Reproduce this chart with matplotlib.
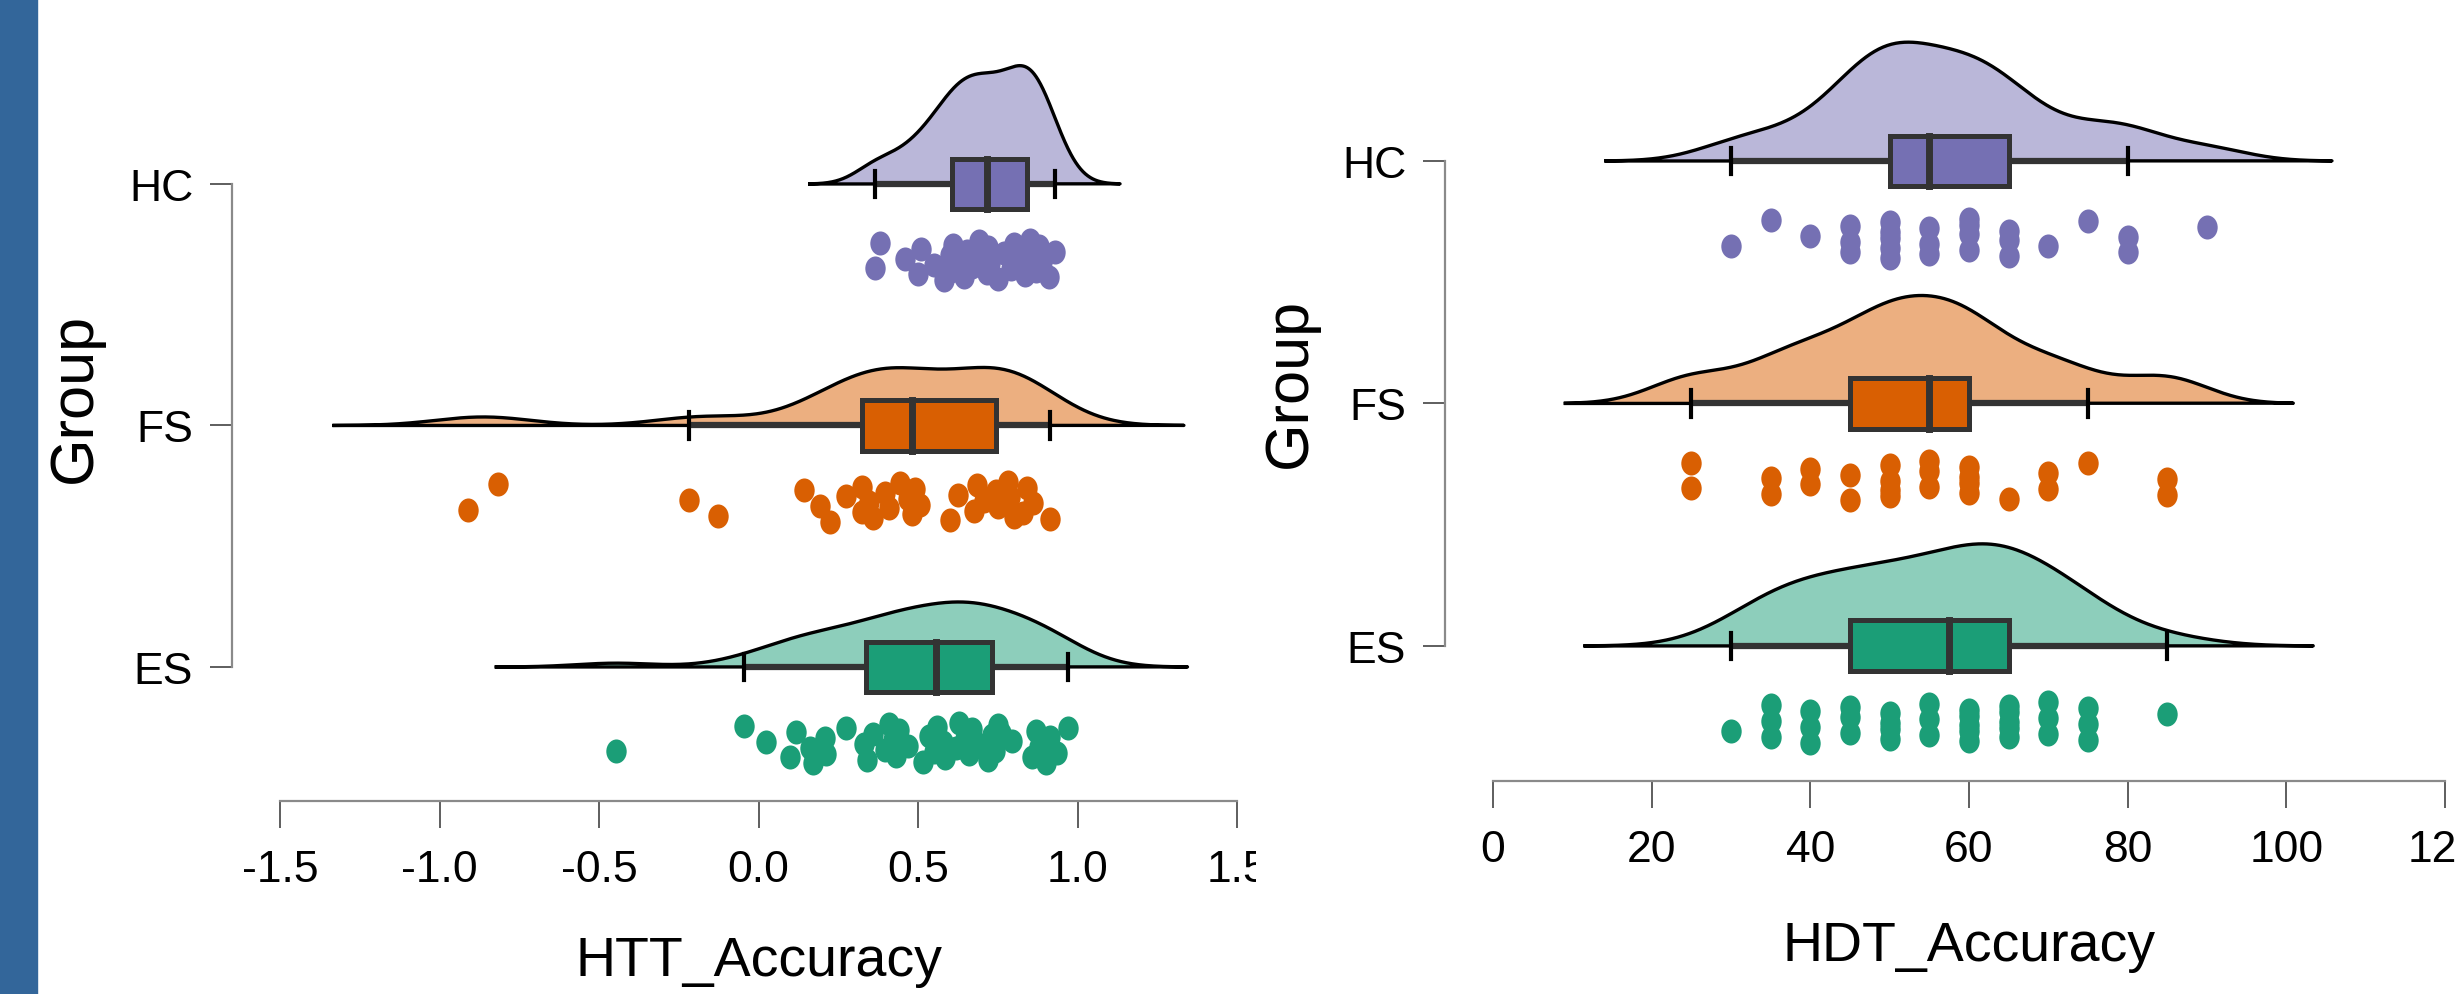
import numpy as np
import matplotlib.pyplot as plt
from matplotlib.patches import Rectangle
from matplotlib.path import Path
from matplotlib.transforms import Bbox, Affine2D

# groups drawn bottom -> top
groups = ['ES', 'FS', 'HC']
dark = ['#1b9e77', '#d95f02', '#7570b3']
light = ['#8dcebb', '#ecaf80', '#bab7d9']

htt_es = [-0.447, -0.047, 0.025, 0.10, 0.116, 0.163, 0.171, 0.21, 0.213, 0.273,
          0.33, 0.339, 0.36, 0.395, 0.408, 0.423, 0.43, 0.44, 0.47, 0.515,
          0.533, 0.55, 0.56, 0.577, 0.584, 0.76, 0.618, 0.63, 0.646, 0.66,
          0.668, 0.697, 0.718, 0.731, 0.74, 0.75, 0.794, 0.856, 0.871, 0.88,
          0.90, 0.913, 0.935, 0.97]
htt_fs = [-0.91, -0.816, -0.217, -0.126, 0.144, 0.194, 0.223, 0.273, 0.323, 0.323,
          0.345, 0.36, 0.398, 0.41, 0.445, 0.47, 0.48, 0.49, 0.505, 0.60,
          0.624, 0.674, 0.684, 0.706, 0.80, 0.743, 0.75, 0.781, 0.787, 0.828,
          0.841, 0.859, 0.913]
htt_hc = [0.364, 0.38, 0.46, 0.50, 0.51, 0.55, 0.58, 0.60, 0.605, 0.61,
          0.63, 0.645, 0.655, 0.67, 0.69, 0.70, 0.715, 0.72, 0.725, 0.75,
          0.77, 0.79, 0.80, 0.815, 0.835, 0.845, 0.848, 0.85, 0.86, 0.87,
          0.88, 0.89, 0.91, 0.93]

hdt_es = [30, 35, 35, 35, 40, 40, 40, 45, 45, 45, 50, 50, 50, 50, 55, 55, 55,
          60, 60, 60, 60, 60, 65, 65, 65, 65, 65, 70, 70, 70, 75, 75, 75, 85]
hdt_fs = [25, 25, 35, 35, 40, 40, 45, 45, 50, 50, 50, 50, 55, 55, 55,
          60, 60, 60, 60, 65, 70, 70, 75, 85, 85]
hdt_hc = [30, 35, 40, 45, 45, 45, 50, 50, 50, 50, 50, 55, 55, 55,
          60, 60, 60, 60, 65, 65, 65, 70, 75, 80, 80, 90]

htt_ticks = [-1.5, -1.0, -0.5, 0.0, 0.5, 1.0, 1.5]
hdt_ticks = [0, 20, 40, 60, 80, 100, 120]

W, H = 2463, 995
plt.rcParams['font.family'] = ['Liberation Sans', 'DejaVu Sans']

# slightly tall dots, like the stretched JASP output
oval = Path.unit_circle().transformed(Affine2D().scale(1.0, 1.18))


def kde(vals):
    v = np.asarray(vals, float)
    n = len(v)
    iqr = np.percentile(v, 75) - np.percentile(v, 25)
    bw = 0.9 * min(v.std(ddof=1), iqr / 1.34) * n ** -0.2
    gx = np.linspace(v.min() - 3 * bw, v.max() + 3 * bw, 512)
    gy = np.exp(-0.5 * ((gx[:, None] - v[None, :]) / bw) ** 2).sum(1) / (n * bw * np.sqrt(2 * np.pi))
    return gx, gy


def raincloud(ax, data, max_h=0.49):
    curves = [kde(d) for d in data]
    scale = max_h / max(c[1].max() for c in curves)
    for i, (vals, (gx, gy)) in enumerate(zip(data, curves)):
        y0 = i + 1
        v = np.asarray(vals, float)
        # cloud
        ax.fill_between(gx, y0, y0 + gy * scale, color=light[i], lw=0, zorder=1)
        ax.plot(np.r_[gx, gx[0]], np.r_[y0 + gy * scale, y0], color='black', lw=2.4, zorder=1.5)
        # box + whiskers
        q1, med, q3 = np.percentile(v, [25, 50, 75])
        iqr = q3 - q1
        lo = v[v >= q1 - 1.5 * iqr].min()
        hi = v[v <= q3 + 1.5 * iqr].max()
        ax.plot([lo, hi], [y0, y0], color='#333333', lw=4.5, solid_capstyle='butt', zorder=2)
        for w in (lo, hi):
            ax.plot([w, w], [y0 - 0.055, y0 + 0.055], color='black', lw=3, zorder=3)
        bh = 0.105
        ax.add_patch(Rectangle((q1, y0 - bh), q3 - q1, 2 * bh, facecolor=dark[i],
                               edgecolor='#333333', lw=3.6, zorder=4))
        ax.plot([med, med], [y0 - bh, y0 + bh], color='#333333', lw=5, zorder=5)
        # rain (deterministic jitter)
        k = np.arange(len(v))
        jit = -0.315 + 0.085 * (2 * ((k * 0.618034 + 0.3) % 1) - 1)
        ax.scatter(v, y0 + jit, s=300, marker=oval, color=dark[i], lw=0, zorder=2, clip_on=False)


fig = plt.figure(figsize=(W / 100, H / 100), dpi=100)
fig.patches.append(Rectangle((0, 0), 37 / W, 1, transform=fig.transFigure,
                             color='#33669a', zorder=0))

ax1 = fig.add_axes([280 / W, 193 / H, 957 / W, 802 / H])
ax2 = fig.add_axes([1493 / W, 213 / H, 952 / W, 782 / H])

raincloud(ax1, [htt_es, htt_fs, htt_hc])
raincloud(ax2, [hdt_es, hdt_fs, hdt_hc])

ax1.set_xlim(-1.5, 1.5)
ax1.set_ylim(0.445, 3.766)
ax2.set_xlim(0, 120)
ax2.set_ylim(0.443, 3.668)

for ax, ticks, xlab, xl_y, gl in [(ax1, htt_ticks, 'HTT_Accuracy', -0.2, (-0.214, 0.504)),
                                   (ax2, hdt_ticks, 'HDT_Accuracy', -0.211, (-0.213, 0.51))]:
    ax.patch.set_visible(False)
    ax.spines['top'].set_visible(False)
    ax.spines['right'].set_visible(False)
    ax.spines['left'].set_bounds(1, 3)
    ax.spines['left'].set_position(('outward', 34.5))
    ax.spines['bottom'].set_bounds(ticks[0], ticks[-1])
    for s in ('left', 'bottom'):
        ax.spines[s].set_color('#8a8a8a')
        ax.spines[s].set_linewidth(1.6)
    ax.set_xticks(ticks)
    ax.set_xticklabels([f'{t:.1f}' if isinstance(t, float) else str(t) for t in ticks])
    ax.set_yticks([1, 2, 3])
    ax.set_yticklabels(groups)
    ax.tick_params(axis='x', length=19.5, width=1.1, color='#333333', pad=15, labelsize=32)
    ax.tick_params(axis='y', length=16, width=1.1, color='#333333', pad=12, labelsize=32)
    ax.set_xlabel(xlab, fontsize=40)
    ax.xaxis.set_label_coords(0.5, xl_y)
    ax.xaxis.label.set_va('center')
    ax.set_ylabel('Group', fontsize=44)
    ax.yaxis.set_label_coords(*gl)
    ax.yaxis.label.set_va('center')

# both panel images are cut off just after their last tick
for ax, edge in ((ax1, 1256), (ax2, 2455)):
    for lbl in ax.get_xticklabels():
        lbl.set_clip_on(True)
        lbl.set_clip_box(Bbox([[0, 0], [edge, H]]))

fig.savefig('out.png', dpi=100)
